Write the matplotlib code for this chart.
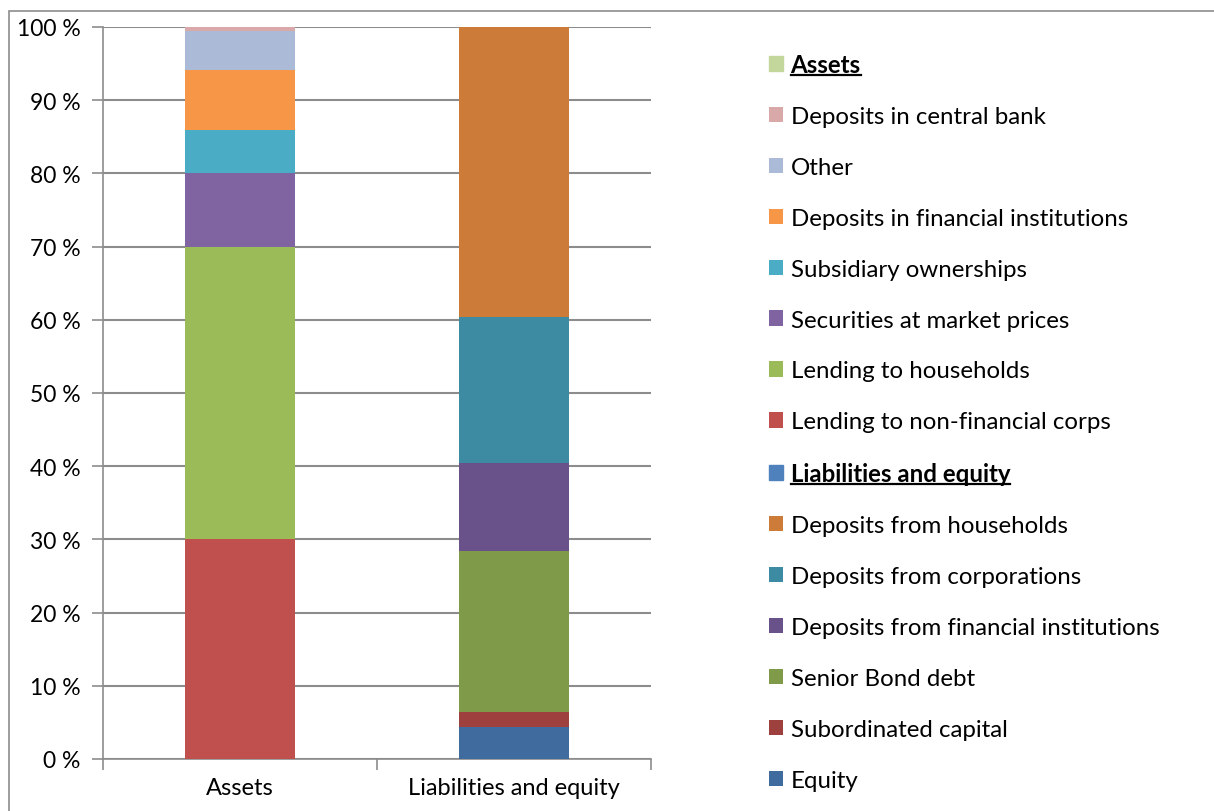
import matplotlib
matplotlib.use("Agg")
import matplotlib.pyplot as plt
from matplotlib.patches import Patch, Rectangle
from matplotlib.lines import Line2D
from matplotlib.ticker import FuncFormatter

plt.rcParams["font.family"] = ["Lato", "DejaVu Sans"]

categories = ["Assets", "Liabilities and equity"]

# assets side, bottom to top (percent of total)
asset_labels = ["Lending to non-financial corps", "Lending to households",
                "Securities at market prices", "Subsidiary ownerships",
                "Deposits in financial institutions", "Other",
                "Deposits in central bank"]
asset_values = [30.0, 40.0, 10.0, 5.9, 8.2, 5.4, 0.5]
asset_colors = ["#C0504D", "#9BBB59", "#8064A2", "#4BACC6",
                "#F79646", "#AABAD7", "#D9A9A9"]

# liabilities side, bottom to top
liab_labels = ["Equity", "Subordinated capital", "Senior Bond debt",
               "Deposits from financial institutions",
               "Deposits from corporations", "Deposits from households"]
liab_values = [4.4, 2.0, 22.0, 12.0, 20.0, 39.6]
liab_colors = ["#3F6B9E", "#9E413E", "#7F9A48", "#69528A",
               "#3C8BA3", "#CC7B38"]

header_colors = {"Assets": "#C3D69B", "Liabilities and equity": "#4F81BD"}

fig = plt.figure(figsize=(12.14, 8.12), dpi=100)
ax = fig.add_axes([103 / 1214, 52 / 812, 548 / 1214, 732 / 812])

width = 0.4
asset_handles = []
bottom = 0
for lab, val, col in zip(asset_labels, asset_values, asset_colors):
    b = ax.bar(0, val, width, bottom=bottom, color=col, label=lab, zorder=3)
    asset_handles.append(b)
    bottom += val

liab_handles = []
bottom = 0
for lab, val, col in zip(liab_labels, liab_values, liab_colors):
    b = ax.bar(1, val, width, bottom=bottom, color=col, label=lab, zorder=3)
    liab_handles.append(b)
    bottom += val

ax.set_xlim(-0.5, 1.5)
ax.set_ylim(0, 100)
ax.set_yticks(range(0, 101, 10))
ax.yaxis.set_major_formatter(FuncFormatter(lambda v, p: f"{int(v)} %"))
ax.yaxis.grid(True, color="#8C8C8C", linewidth=1.5, zorder=0)
ax.set_xticks([0, 1])
ax.set_xticklabels(categories)
ax.set_xticks([-0.5, 0.5, 1.5], minor=True)
ax.tick_params(axis="x", which="major", length=0, pad=13, labelsize=17)
ax.tick_params(axis="x", which="minor", length=8, color="#8C8C8C", width=1.2)
ax.tick_params(axis="y", length=8, color="#8C8C8C", width=1.2, labelsize=16.5, pad=8)
for s in ["top", "right"]:
    ax.spines[s].set_visible(False)
for s in ["left", "bottom"]:
    ax.spines[s].set_color("#8C8C8C")
    ax.spines[s].set_linewidth(1.2)

handles = [Patch(color=header_colors["Assets"])] + asset_handles[::-1] \
    + [Patch(color=header_colors["Liabilities and equity"])] + liab_handles[::-1]
labels = ["Assets"] + asset_labels[::-1] + ["Liabilities and equity"] + liab_labels[::-1]

leg = fig.legend(handles, labels, loc="upper left",
                 bbox_to_anchor=(769 / 1214, (812 - 54) / 812),
                 frameon=False, fontsize=17.3, labelspacing=1.245,
                 handlelength=0.6, handleheight=0.6, handletextpad=0.3,
                 borderpad=0, borderaxespad=0)

bold_texts = []
for t in leg.get_texts():
    if t.get_text() in header_colors:
        t.set_fontweight("bold")
        bold_texts.append(t)

# outer chart frame
fig.patches.append(Rectangle((9 / 1214, -0.1), 1.2, (812 - 12) / 812 + 0.1,
                             transform=fig.transFigure, fill=False,
                             edgecolor="#8C8C8C", linewidth=1.2))

# underline the header entries
fig.canvas.draw()
for t in bold_texts:
    bb = t.get_window_extent()
    y = bb.y0 + 1
    fig.add_artist(Line2D([bb.x0 / 1214, bb.x1 / 1214], [y / 812, y / 812],
                          transform=fig.transFigure, color="black", linewidth=1.6))

fig.savefig("out.png", dpi=100)
